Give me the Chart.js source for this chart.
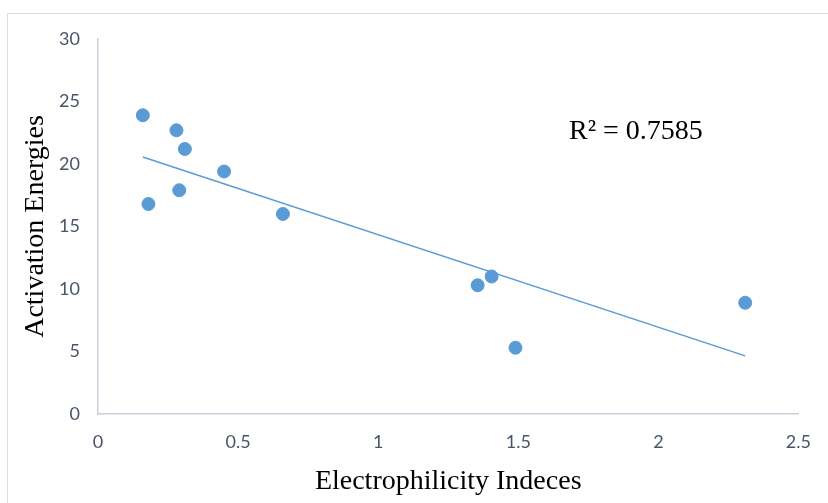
<!DOCTYPE html>
<html>
<head>
<meta charset="utf-8">
<script src="https://cdn.jsdelivr.net/npm/chart.js@4.4.1/dist/chart.umd.min.js"></script>
<style>
  html, body { margin: 0; padding: 0; background: #fff; }
  #wrap { position: relative; width: 828px; height: 503px; }
  #frame { position: absolute; left: 7px; top: 13px; right: -5px; bottom: -5px; border: 1px solid #d9dee6; }
  canvas { position: absolute; left: 0; top: 0; }
</style>
</head>
<body>
<div id="wrap">
  <div id="frame"></div>
  <canvas id="chart" width="828" height="503"></canvas>
</div>
<script>
// Données
const electrophilicity = [0.16, 0.28, 0.31, 0.45, 0.29, 0.18, 0.66, 1.355, 1.405, 1.49, 2.31];
const activationEnergy = [23.9, 22.7, 21.2, 19.4, 17.9, 16.8, 16.0, 10.3, 11.0, 5.3, 8.9];
const xTicks = [0, 0.5, 1, 1.5, 2, 2.5];
const yTicks = [0, 5, 10, 15, 20, 25, 30];
const r2Label = 'R² = 0.7585';

const blue = '#5B9BD5';
const tickColor = '#4a5468';
const axisColor = '#c9d0db';

// Droite de régression (moindres carrés)
function linearFit(xs, ys) {
    const n = xs.length;
    const mx = xs.reduce((a, b) => a + b, 0) / n;
    const my = ys.reduce((a, b) => a + b, 0) / n;
    let sxy = 0, sxx = 0;
    for (let i = 0; i < n; i++) {
        sxy += (xs[i] - mx) * (ys[i] - my);
        sxx += (xs[i] - mx) * (xs[i] - mx);
    }
    const slope = sxy / sxx;
    return { slope, intercept: my - slope * mx };
}

const fit = linearFit(electrophilicity, activationEnergy);
const xMin = Math.min(...electrophilicity);
const xMax = Math.max(...electrophilicity);
const trend = [xMin, xMax].map(x => ({ x, y: fit.intercept + fit.slope * x }));
const points = electrophilicity.map((x, i) => ({ x, y: activationEnergy[i] }));

// Texte R² placé dans les coordonnées des données
const r2Plugin = {
    id: 'r2',
    afterDatasetsDraw(chart) {
        const ctx = chart.ctx;
        const x = chart.scales.x.getPixelForValue(1.92);
        const y = chart.scales.y.getPixelForValue(22.55);
        ctx.save();
        ctx.font = '28px "Liberation Serif"';
        ctx.fillStyle = '#000';
        ctx.textAlign = 'center';
        ctx.textBaseline = 'middle';
        ctx.fillText(r2Label, x, y);
        ctx.restore();
    }
};

const tickFont = { family: 'Lato', size: 18 };
const titleFont = { family: '"Liberation Serif"', size: 28 };

new Chart(document.getElementById('chart'), {
    type: 'scatter',
    data: {
        datasets: [{
            data: points,
            backgroundColor: blue,
            borderColor: blue,
            borderWidth: 1,
            pointRadius: 6.5,
            order: 1
        }, {
            type: 'line',
            data: trend,
            borderColor: blue,
            borderWidth: 1.5,
            pointRadius: 0,
            fill: false,
            order: 2
        }]
    },
    plugins: [r2Plugin],
    options: {
        responsive: false,
        animation: false,
        layout: { padding: { left: 10, top: 39, right: 29, bottom: 0 } },
        plugins: { legend: { display: false }, tooltip: { enabled: false } },
        scales: {
            x: {
                type: 'linear',
                min: 0,
                max: 2.5,
                afterBuildTicks: s => { s.ticks = xTicks.map(v => ({ value: v })); },
                afterFit: s => { s.height = 503 - 414; },
                grid: { drawOnChartArea: false, drawTicks: false },
                border: { display: true, color: axisColor, width: 1.5 },
                ticks: { color: tickColor, font: tickFont, padding: 17, maxRotation: 0, callback: v => String(v) },
                title: { display: true, text: 'Electrophilicity Indeces', color: '#000', font: titleFont, padding: { top: 0, bottom: 5 } }
            },
            y: {
                min: 0,
                max: 30,
                afterBuildTicks: s => { s.ticks = yTicks.map(v => ({ value: v })); },
                afterFit: s => { s.width = 98 - 10; },
                grid: { drawOnChartArea: false, drawTicks: false },
                border: { display: true, color: axisColor, width: 1.5 },
                ticks: { color: tickColor, font: tickFont, padding: 18 },
                title: { display: true, text: 'Activation Energies', color: '#000', font: titleFont, padding: { top: 9, bottom: 0 } }
            }
        }
    }
});
</script>
</body>
</html>
